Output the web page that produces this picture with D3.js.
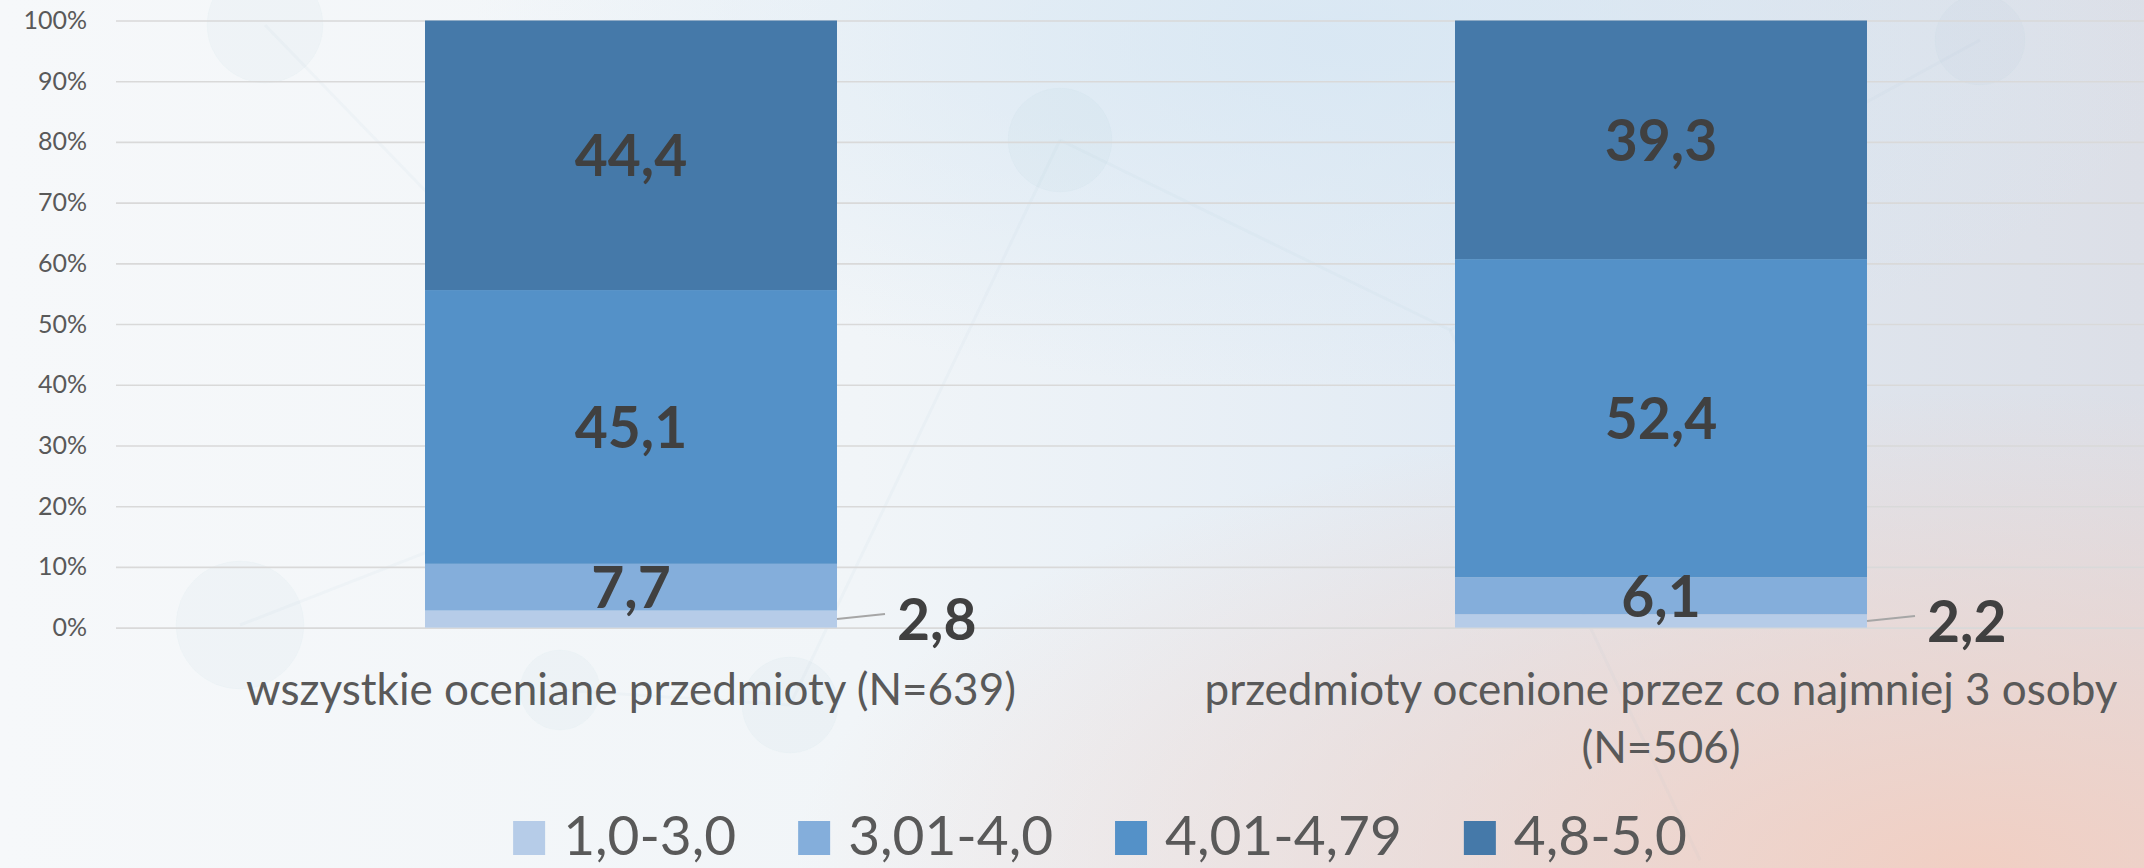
<!DOCTYPE html>
<html>
<head>
<meta charset="utf-8">
<script src="https://cdn.jsdelivr.net/npm/d3@7"></script>
<style>
  html, body { margin: 0; padding: 0; overflow: hidden; }
  svg { display: block; }
</style>
</head>
<body>
<svg id="chart"></svg>
<script>
// data
const categories = ["wszystkie oceniane przedmioty (N=639)", "przedmioty ocenione przez co najmniej 3 osoby (N=506)"];
const categoryLines = [["wszystkie oceniane przedmioty (N=639)"], ["przedmioty ocenione przez co najmniej 3 osoby", "(N=506)"]];
const seriesNames = ["1,0-3,0", "3,01-4,0", "4,01-4,79", "4,8-5,0"];
const low = [2.8, 2.2];
const midLow = [7.7, 6.1];
const midHigh = [45.1, 52.4];
const high = [44.4, 39.3];
const yTicks = [0, 10, 20, 30, 40, 50, 60, 70, 80, 90, 100];

const colors = ["#b6cce8", "#84aedb", "#5491c8", "#4579a9"];

let svgWidth = 2144, svgHeight = 868;
let plotLeft = 116, plotTop = 20.5, plotBottom = 627.6;

let svg = d3.select("#chart")
    .attr("width", svgWidth)
    .attr("height", svgHeight);

// background
let defs = svg.append("defs");
let bg = defs.append("linearGradient").attr("id", "bg")
    .attr("x1", 0).attr("y1", 0).attr("x2", 1).attr("y2", 0);
bg.append("stop").attr("offset", "0%").attr("stop-color", "#f6f8fa");
bg.append("stop").attr("offset", "40%").attr("stop-color", "#f1f5f8");
bg.append("stop").attr("offset", "68%").attr("stop-color", "#e2ebf4");
bg.append("stop").attr("offset", "100%").attr("stop-color", "#dcdfe7");
let pink = defs.append("radialGradient").attr("id", "pink")
    .attr("cx", 0.92).attr("cy", 1).attr("r", 0.55);
pink.append("stop").attr("offset", "0%").attr("stop-color", "#f3cdbf").attr("stop-opacity", 0.9);
pink.append("stop").attr("offset", "100%").attr("stop-color", "#f3cdbf").attr("stop-opacity", 0);
let blue = defs.append("radialGradient").attr("id", "blue")
    .attr("cx", 0.62).attr("cy", 0.05).attr("r", 0.4);
blue.append("stop").attr("offset", "0%").attr("stop-color", "#d6e6f3").attr("stop-opacity", 0.8);
blue.append("stop").attr("offset", "100%").attr("stop-color", "#d6e6f3").attr("stop-opacity", 0);

svg.append("rect").attr("width", svgWidth).attr("height", svgHeight).attr("fill", "url(#bg)");
svg.append("rect").attr("width", svgWidth).attr("height", svgHeight).attr("fill", "url(#blue)");
svg.append("rect").attr("width", svgWidth).attr("height", svgHeight).attr("fill", "url(#pink)");

// faint network decoration
let deco = svg.append("g").attr("fill", "#9cc3c9").attr("stroke", "#9cc3c9");
[[265, 25, 58], [240, 625, 64], [1060, 140, 52], [790, 705, 48], [560, 690, 40], [1980, 40, 45]].forEach(c => {
    deco.append("circle").attr("cx", c[0]).attr("cy", c[1]).attr("r", c[2])
        .attr("fill-opacity", 0.06).attr("stroke-opacity", 0.04);
});
[[265, 25, 560, 330], [240, 625, 560, 500], [560, 690, 790, 705], [1060, 140, 1450, 330],
 [1450, 330, 1980, 40], [1450, 330, 1700, 860], [790, 705, 1060, 140]].forEach(l => {
    deco.append("line").attr("x1", l[0]).attr("y1", l[1]).attr("x2", l[2]).attr("y2", l[3])
        .attr("stroke-opacity", 0.06).attr("stroke-width", 3);
});

// scales
let xScale = d3.scaleBand()
    .domain(categories)
    .range([plotLeft, plotLeft + 2060])
    .paddingInner(0.6)
    .paddingOuter(0.3);

let yScale = d3.scaleLinear()
    .domain([0, 100])
    .range([plotBottom, plotTop]);

// y axis with gridlines
let y_axis = d3.axisLeft(yScale)
    .tickValues(yTicks)
    .tickFormat(d => d + "%")
    .tickSize(-(svgWidth - plotLeft))
    .tickPadding(29);

let yAxisG = svg.append("g")
    .attr("transform", `translate(${plotLeft}, 0)`)
    .call(y_axis);
yAxisG.select(".domain").remove();
yAxisG.selectAll(".tick line").attr("stroke", "#d9d9d9").attr("stroke-width", 1.6);
yAxisG.selectAll(".tick text")
    .attr("fill", "#595959")
    .style("font-family", "Lato, 'Open Sans', sans-serif")
    .style("font-size", "25px");

// stacked bars
let table = categories.map((c, i) => ({
    cat: c, s0: low[i], s1: midLow[i], s2: midHigh[i], s3: high[i]
}));
let stack = d3.stack().keys(["s0", "s1", "s2", "s3"])(table);

let locale = d3.formatLocale({ decimal: ",", thousands: " ", grouping: [3], currency: ["", ""] });
let fmt = locale.format(".1f");

let layers = svg.selectAll(".layer")
    .data(stack)
    .enter()
    .append("g")
    .attr("class", "layer")
    .attr("fill", (d, i) => colors[i]);

layers.selectAll("rect")
    .data(d => d)
    .enter()
    .append("rect")
    .attr("x", d => xScale(d.data.cat))
    .attr("width", xScale.bandwidth())
    .attr("y", d => yScale(d[1]))
    .attr("height", d => yScale(d[0]) - yScale(d[1]));

// data labels
let labelFont = "Lato, 'Open Sans', sans-serif";
stack.forEach((layer, li) => {
    layer.forEach(d => {
        let v = d[1] - d[0];
        let xc = xScale(d.data.cat) + xScale.bandwidth() / 2;
        let yc = yScale((d[0] + d[1]) / 2);
        if (li === 0) {
            // small slice: label outside with leader line
            let xr = xScale(d.data.cat) + xScale.bandwidth();
            svg.append("polyline")
                .attr("points", `${xr},${yc} ${xr + 48},${yc - 5}`)
                .attr("fill", "none")
                .attr("stroke", "#a6a6a6")
                .attr("stroke-width", 2);
            svg.append("text")
                .attr("x", xr + 60)
                .attr("y", yc + 21)
                .attr("fill", "#404040")
                .style("font-family", labelFont)
                .style("font-weight", "bold")
                .style("font-size", "57px")
                .text(fmt(v));
        } else {
            svg.append("text")
                .attr("x", xc)
                .attr("y", yc + 21)
                .attr("text-anchor", "middle")
                .attr("fill", "#404040")
                .style("font-family", labelFont)
                .style("font-weight", "bold")
                .style("font-size", "57px")
                .text(fmt(v));
        }
    });
});

// category labels
categories.forEach((c, i) => {
    let t = svg.append("text")
        .attr("x", xScale(c) + xScale.bandwidth() / 2)
        .attr("y", 705)
        .attr("text-anchor", "middle")
        .attr("fill", "#595959")
        .style("font-family", "Lato, 'Open Sans', sans-serif")
        .style("font-size", "44px");
    categoryLines[i].forEach((line, j) => {
        t.append("tspan")
            .attr("x", xScale(c) + xScale.bandwidth() / 2)
            .attr("dy", j === 0 ? 0 : 58)
            .text(line);
    });
});

// legend
let legend = svg.append("g");
let items = legend.selectAll("g")
    .data(seriesNames)
    .enter()
    .append("g");
items.append("rect")
    .attr("width", 32)
    .attr("height", 34)
    .attr("y", 821)
    .attr("fill", (d, i) => colors[i]);
items.append("text")
    .attr("x", 50)
    .attr("y", 855)
    .attr("fill", "#595959")
    .style("font-family", "Lato, 'Open Sans', sans-serif")
    .style("font-size", "55px")
    .text(d => d);

let xpos = 0;
let offsets = [];
items.each(function(d, i) {
    offsets.push(xpos);
    let w = this.querySelector("text").getComputedTextLength();
    xpos += 50 + w + 62;
});
let total = xpos - 62;
let startX = 1100 - total / 2;
items.attr("transform", (d, i) => `translate(${startX + offsets[i]}, 0)`);
</script>
</body>
</html>
